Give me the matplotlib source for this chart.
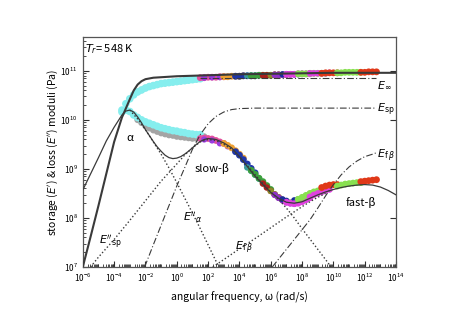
import numpy as np
import matplotlib
matplotlib.use('Agg')
import matplotlib.pyplot as plt
from matplotlib.ticker import LogLocator, NullFormatter

plt.rcParams['font.family'] = ['Noto Sans CJK JP', 'DejaVu Sans']
plt.rcParams['mathtext.fontset'] = 'dejavusans'

# measured master curve, log10(omega) / log10(E') / log10(E'')
cyan_w = [-3.5, -3.25, -3.0, -2.75, -2.5, -2.25, -2.0, -1.75, -1.5, -1.25, -1.0,
          -0.75, -0.5, -0.25, 0.0, 0.25, 0.5, 0.75, 1.0, 1.25, 1.5]
cyan_e1 = [10.20, 10.33, 10.43, 10.51, 10.57, 10.61, 10.65, 10.68, 10.70, 10.72, 10.74,
           10.75, 10.76, 10.77, 10.78, 10.79, 10.80, 10.81, 10.82, 10.83, 10.84]
cyan_e2 = [10.16, 10.20, 10.17, 10.10, 10.05, 10.00, 9.96, 9.93, 9.90, 9.87, 9.84,
           9.82, 9.80, 9.78, 9.77, 9.75, 9.74, 9.72, 9.71, 9.70, 9.70]

gray_w = [-2.5, -2.25, -2.0, -1.75, -1.5, -1.25, -1.0, -0.75, -0.5, -0.25, 0.0,
          0.25, 0.5, 0.75, 1.0, 1.25, 1.5, 1.75]
gray_e1 = [10.57, 10.61, 10.65, 10.68, 10.70, 10.72, 10.74, 10.75, 10.76, 10.77, 10.78,
           10.79, 10.80, 10.81, 10.82, 10.84, 10.86, 10.87]
gray_e2 = [10.00, 9.94, 9.88, 9.83, 9.79, 9.76, 9.73, 9.71, 9.69, 9.68, 9.66,
           9.65, 9.64, 9.63, 9.62, 9.62, 9.63, 9.66]

pink_w = [1.5, 1.75, 2.0, 2.25, 2.5, 2.75, 3.0]
pink_e1 = [10.86, 10.86, 10.87, 10.87, 10.87, 10.88, 10.88]
pink_e2 = [9.62, 9.63, 9.62, 9.61, 9.58, 9.55, 9.52]

violet_w = [1.75, 2.25, 2.75, 3.25]
violet_e1 = [10.86, 10.87, 10.87, 10.88]
violet_e2 = [9.60, 9.58, 9.52, 9.46]

orange_w = [3.0, 3.25, 3.5, 3.75, 4.0, 4.25]
orange_e1 = [10.88, 10.88, 10.89, 10.89, 10.89, 10.90]
orange_e2 = [9.52, 9.48, 9.43, 9.37, 9.30, 9.22]

blue_w = [3.75, 4.0, 4.25, 4.5, 4.75, 5.0]
blue_e1 = [10.89, 10.89, 10.90, 10.90, 10.90, 10.90]
blue_e2 = [9.35, 9.28, 9.19, 9.10, 9.01, 8.92]

teal_w = [4.5, 4.75, 5.0, 5.25]
teal_e1 = [10.90, 10.90, 10.90, 10.91]
teal_e2 = [9.03, 8.96, 8.88, 8.80]

green_w = [4.75, 5.0, 5.25, 5.5, 5.75, 6.0]
green_e1 = [10.90, 10.90, 10.91, 10.91, 10.91, 10.91]
green_e2 = [8.97, 8.89, 8.81, 8.74, 8.66, 8.58]

darkred_w = [5.5, 5.75, 6.0, 6.25, 6.5]
darkred_e1 = [10.91, 10.91, 10.91, 10.92, 10.92]
darkred_e2 = [8.70, 8.62, 8.55, 8.48, 8.42]

olive_w = [6.0, 6.25, 6.5, 6.75, 7.0, 7.25]
olive_e1 = [10.91, 10.92, 10.92, 10.92, 10.92, 10.93]
olive_e2 = [8.55, 8.48, 8.42, 8.37, 8.33, 8.31]

purple_w = [6.25, 6.5, 6.75, 7.0, 7.25, 7.5]
purple_e1 = [10.92, 10.92, 10.92, 10.93, 10.93, 10.93]
purple_e2 = [8.47, 8.41, 8.36, 8.32, 8.30, 8.29]

navy_w = [6.75, 7.0, 7.5, 7.75, 8.0]
navy_e1 = [10.93, 10.93, 10.93, 10.93, 10.94]
navy_e2 = [8.38, 8.35, 8.36, 8.38, 8.38]

magenta_w = [7.0, 7.25, 7.5, 7.75, 8.0, 8.25, 8.5]
magenta_e1 = [10.93, 10.93, 10.93, 10.94, 10.94, 10.94, 10.94]
magenta_e2 = [8.32, 8.30, 8.29, 8.30, 8.33, 8.37, 8.41]

lime_w = [7.75, 8.0, 8.25, 8.5, 8.75, 9.0, 9.25, 9.5]
lime_e1 = [10.94, 10.94, 10.94, 10.95, 10.95, 10.95, 10.95, 10.95]
lime_e2 = [8.38, 8.42, 8.46, 8.50, 8.53, 8.55, 8.57, 8.59]

magenta2_w = [8.5, 8.75, 9.0, 9.25, 9.5, 9.75]
magenta2_e1 = [10.95, 10.95, 10.95, 10.95, 10.95, 10.96]
magenta2_e2 = [8.43, 8.47, 8.50, 8.53, 8.56, 8.58]

red_w = [9.25, 9.5, 9.75, 10.0, 10.25]
red_e1 = [10.95, 10.96, 10.96, 10.96, 10.96]
red_e2 = [8.62, 8.65, 8.67, 8.68, 8.68]

lime2_w = [10.25, 10.5, 10.75, 11.0, 11.25, 11.5, 11.75]
lime2_e1 = [10.96, 10.96, 10.97, 10.97, 10.97, 10.97, 10.97]
lime2_e2 = [8.65, 8.67, 8.69, 8.70, 8.71, 8.72, 8.72]

red2_w = [11.75, 12.0, 12.25, 12.5, 12.75]
red2_e1 = [10.97, 10.97, 10.98, 10.98, 10.98]
red2_e2 = [8.74, 8.75, 8.76, 8.77, 8.78]

# model curves
fit_e1_w = [-6, -5.5, -5, -4.5, -4, -3.5, -3, -2.75, -2.5, -2.25, -2, -1.5, -1,
            0, 2, 4, 6, 8, 10, 12, 14]
fit_e1 = [7.0, 7.62, 8.25, 8.9, 9.55, 10.05, 10.42, 10.6, 10.72, 10.79, 10.83, 10.86,
          10.87, 10.89, 10.91, 10.93, 10.94, 10.95, 10.96, 10.96, 10.96]

fit_e2_w = [-6, -5.5, -5, -4.5, -4, -3.5, -3.25, -3, -2.75, -2.5, -2.25, -2, -1.75,
            -1.5, -1.25, -1, -0.75, -0.5, -0.25, 0, 0.25, 0.5, 0.75, 1, 1.25, 1.5,
            1.75, 2, 2.5, 3, 3.5, 4, 4.5, 5, 5.5, 6, 6.5, 7, 7.5, 8, 8.5, 9, 9.5,
            10, 10.5, 11, 11.5, 12, 12.5, 13, 13.5, 14]
fit_e2 = [8.57, 8.9, 9.23, 9.57, 9.85, 10.1, 10.18, 10.2, 10.16, 10.06, 9.94, 9.8, 9.68,
          9.56, 9.45, 9.36, 9.28, 9.23, 9.21, 9.22, 9.25, 9.3, 9.36, 9.43, 9.5, 9.56,
          9.6, 9.62, 9.6, 9.53, 9.43, 9.25, 9.05, 8.85, 8.68, 8.52, 8.4, 8.32, 8.3,
          8.33, 8.4, 8.47, 8.53, 8.58, 8.62, 8.65, 8.67, 8.68, 8.67, 8.63, 8.56, 8.47]

alpha_w = [-3, -2.5, -2, -1.5, -1, -0.5, 0, 0.5, 1, 1.5, 2, 2.5, 2.7]
alpha_e2 = [10.2, 10.02, 9.8, 9.55, 9.3, 9.02, 8.72, 8.41, 8.1, 7.78, 7.45, 7.12, 7.0]

sp_w = [-5.5, -5, -4, -3, -2, -1, 0, 0.5, 1, 1.5, 2, 2.5, 3, 3.5, 4, 4.5, 5, 5.5,
        6, 6.5, 7, 7.5, 8, 8.5, 9, 9.5, 9.85]
sp_e2 = [7.0, 7.2, 7.56, 7.95, 8.35, 8.75, 9.1, 9.28, 9.43, 9.55, 9.6, 9.58, 9.5,
         9.4, 9.25, 9.07, 8.88, 8.7, 8.53, 8.38, 8.2, 8.0, 7.78, 7.57, 7.36, 7.15, 7.0]

fb_w = [2.3, 3, 4, 5, 6, 7, 8, 8.5, 9, 9.5]
fb_e2 = [7.0, 7.15, 7.37, 7.58, 7.8, 8.02, 8.23, 8.33, 8.42, 8.5]

sp_e1_w = [-2.05, -1.5, -1, -0.5, 0, 0.5, 1, 1.5, 2, 2.5, 3, 3.5, 4, 5, 12.7]
sp_e1 = [7.0, 7.45, 7.85, 8.25, 8.65, 9.02, 9.4, 9.7, 9.92, 10.07, 10.16, 10.21,
         10.23, 10.24, 10.24]

fb_e1_w = [6.1, 7, 8, 8.5, 9, 9.5, 10, 10.5, 11, 11.5, 12, 12.5, 12.75]
fb_e1 = [7.0, 7.36, 7.76, 7.96, 8.2, 8.45, 8.68, 8.88, 9.04, 9.16, 9.25, 9.3, 9.33]

inf_w = [1.5, 12.7]
inf_e1 = [10.86, 10.86]

series = [
    (gray_w, gray_e1, gray_e2, '#a4a4a4', 22),
    (cyan_w, cyan_e1, cyan_e2, '#86eeee', 30),
    (pink_w, pink_e1, pink_e2, '#e2509c', 24),
    (violet_w, violet_e1, violet_e2, '#9a3ce0', 20),
    (orange_w, orange_e1, orange_e2, '#eea032', 24),
    (blue_w, blue_e1, blue_e2, '#2036a8', 24),
    (teal_w, teal_e1, teal_e2, '#3c9c9c', 22),
    (green_w, green_e1, green_e2, '#3ca03c', 24),
    (darkred_w, darkred_e1, darkred_e2, '#a8201c', 22),
    (olive_w, olive_e1, olive_e2, '#8c8c28', 22),
    (purple_w, purple_e1, purple_e2, '#9030c8', 22),
    (navy_w, navy_e1, navy_e2, '#1a2c9c', 20),
    (magenta_w, magenta_e1, magenta_e2, '#e040e0', 24),
    (lime_w, lime_e1, lime_e2, '#88e050', 24),
    (magenta2_w, magenta2_e1, magenta2_e2, '#e040e0', 22),
    (red_w, red_e1, red_e2, '#e03818', 24),
    (lime2_w, lime2_e1, lime2_e2, '#88e050', 24),
    (red2_w, red2_e1, red2_e2, '#e03818', 24),
]

def p(a):
    return 10.0 ** np.asarray(a)

fig = plt.figure(figsize=(4.6, 3.22), dpi=100)
ax = fig.add_axes([0.180, 0.171, 0.681, 0.714])

for w, e1, e2, c, s in series:
    ax.scatter(p(w), p(e1), s=s, color=c, edgecolors='none', zorder=2)
    ax.scatter(p(w), p(e2), s=s, color=c, edgecolors='none', zorder=2)

lc = '#3a3a3a'
dots = (0, (1, 1.6))
dashdot = (0, (6, 2, 1, 2))
ax.plot(p(fit_e1_w), p(fit_e1), color=lc, lw=1.5, zorder=3)
ax.plot(p(fit_e2_w), p(fit_e2), color=lc, lw=0.9, zorder=3)
ax.plot(p(alpha_w), p(alpha_e2), color=lc, lw=1.0, ls=dots, zorder=3)
ax.plot(p(sp_w), p(sp_e2), color=lc, lw=1.0, ls=dots, zorder=3)
ax.plot(p(fb_w), p(fb_e2), color=lc, lw=1.0, ls=dots, zorder=3)
ax.plot(p(sp_e1_w), p(sp_e1), color=lc, lw=0.8, ls=dashdot, zorder=3)
ax.plot(p(fb_e1_w), p(fb_e1), color=lc, lw=0.8, ls=dashdot, zorder=3)
ax.plot(p(inf_w), p(inf_e1), color=lc, lw=0.8, ls=dashdot, zorder=3)

ax.set_xscale('log')
ax.set_yscale('log')
ax.set_xlim(1e-6, 1e14)
ax.set_ylim(1e7, 10 ** 11.69)

ax.xaxis.set_major_locator(LogLocator(base=100, numticks=20))
ax.xaxis.set_minor_locator(LogLocator(base=10, subs=np.arange(1, 10), numticks=40))
ax.xaxis.set_minor_formatter(NullFormatter())
ax.yaxis.set_major_locator(LogLocator(base=10, numticks=10))
ax.yaxis.set_minor_locator(LogLocator(base=10, subs=np.arange(2, 10), numticks=10))
ax.yaxis.set_minor_formatter(NullFormatter())
ax.tick_params(which='both', direction='in', top=False, right=False, labelsize=6,
               color='#303030')
ax.tick_params(which='major', length=4, width=0.8)
ax.tick_params(which='minor', length=2, width=0.6)
ax.tick_params(axis='y', which='major', right=True)
for sp in ax.spines.values():
    sp.set_color('#555555')
    sp.set_linewidth(0.9)

ax.set_xlabel('angular frequency, ω (rad/s)', fontsize=7.5, labelpad=5)
ax.set_ylabel("storage ($E'$) & loss ($E''$) moduli (Pa)", fontsize=7.5, labelpad=0)

ax.text(0.008, 0.948, r'$T_r$= 548 K', transform=ax.transAxes, fontsize=8,
        ha='left', va='center')
ax.text(p(-3.0), p(9.63), 'α', fontsize=8, ha='center', va='center')
ax.text(p(2.24), p(9.0), 'slow-β', fontsize=8, ha='center', va='center')
ax.text(p(11.76), p(8.31), 'fast-β', fontsize=8, ha='center', va='center')
ax.text(p(-4.95), p(7.5), r"$E''_{\mathrm{sp}}$", fontsize=8, ha='left', va='center')
ax.text(p(0.4), p(8.0), r"$E''_{\alpha}$", fontsize=8, ha='left', va='center')
ax.text(p(3.7), p(7.4), r"$E_{\mathrm{f}\,\beta}$", fontsize=8, ha='left', va='center')
ax.text(p(12.78), p(10.7), r"$E_{\infty}$", fontsize=8, ha='left', va='center')
ax.text(p(12.78), p(10.2), r"$E_{\mathrm{sp}}$", fontsize=8, ha='left', va='center')
ax.text(p(12.78), p(9.27), r"$E_{\mathrm{f}\,\beta}$", fontsize=8, ha='left', va='center')

fig.savefig('out.png', dpi=100)
